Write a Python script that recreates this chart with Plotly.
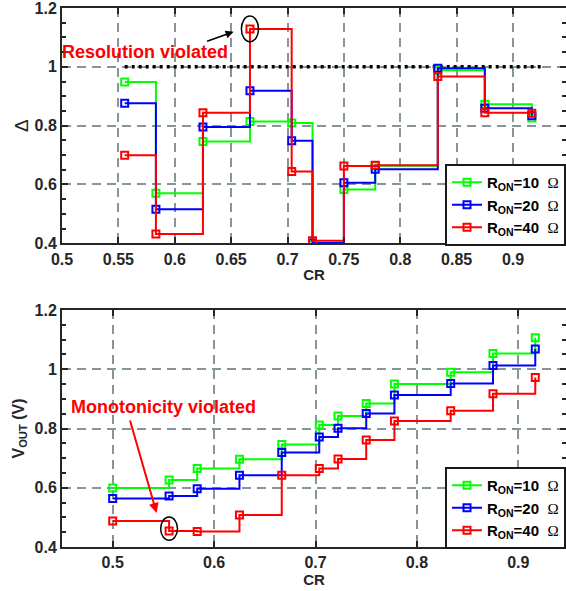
import plotly.graph_objects as go

# ---------------- data ----------------
cr_top = [0.5556, 0.5833, 0.625, 0.6667, 0.7037, 0.7222, 0.75, 0.7778, 0.8333, 0.875, 0.9167]
delta_10 = [0.948, 0.570, 0.746, 0.814, 0.809, 0.395, 0.583, 0.664, 0.988, 0.873, 0.826]
delta_20 = [0.876, 0.516, 0.795, 0.919, 0.749, 0.401, 0.606, 0.652, 0.995, 0.859, 0.834]
delta_40 = [0.699, 0.432, 0.844, 1.129, 0.644, 0.409, 0.663, 0.665, 0.967, 0.844, 0.842]

cr_bot = [0.5, 0.5556, 0.5833, 0.625, 0.6667, 0.7037, 0.7222, 0.75, 0.7778, 0.8333, 0.875, 0.9167]
vout_10 = [0.599, 0.626, 0.665, 0.696, 0.746, 0.812, 0.842, 0.884, 0.950, 0.990, 1.053, 1.106]
vout_20 = [0.564, 0.572, 0.597, 0.642, 0.719, 0.771, 0.801, 0.851, 0.913, 0.952, 1.013, 1.068]
vout_40 = [0.488, 0.454, 0.452, 0.508, 0.642, 0.665, 0.697, 0.761, 0.825, 0.860, 0.917, 0.972]

resolution_limit_x = [0.5556, 0.9259]
resolution_limit_y = [1.0, 1.0]

top_xticks = [0.5, 0.55, 0.6, 0.65, 0.7, 0.75, 0.8, 0.85, 0.9]
top_xlabels = ["0.5", "0.55", "0.6", "0.65", "0.7", "0.75", "0.8", "0.85", "0.9"]
bot_xticks = [0.5, 0.6, 0.7, 0.8, 0.9]
bot_xlabels = ["0.5", "0.6", "0.7", "0.8", "0.9"]
yticks = [0.4, 0.6, 0.8, 1.0, 1.2]
ylabels = ["0.4", "0.6", "0.8", "1", "1.2"]

OMEGA = "<span style='font-family:Liberation Serif;font-weight:normal'>Ω</span>"
series_names = ["R<sub>ON</sub>=10&nbsp; " + OMEGA, "R<sub>ON</sub>=20&nbsp; " + OMEGA,
                "R<sub>ON</sub>=40&nbsp; " + OMEGA]
series_colors = ["#00ff00", "#0000ff", "#ff0000"]

FONT = "Liberation Sans, Arial, Helvetica, sans-serif"

fig = go.Figure()

# resolution limit (dotted black)
fig.add_trace(go.Scatter(x=resolution_limit_x, y=resolution_limit_y, mode="lines",
                         line=dict(color="black", width=3.5, dash="3px,4px"),
                         showlegend=False, xaxis="x", yaxis="y", hoverinfo="skip"))

for name, col, ys in zip(series_names, series_colors, [delta_10, delta_20, delta_40]):
    fig.add_trace(go.Scatter(x=cr_top, y=ys, mode="lines+markers", name=name,
                             line=dict(color=col, width=2, shape="hv"),
                             marker=dict(symbol="square-open", size=7, color=col,
                                         line=dict(width=2, color=col)),
                             xaxis="x", yaxis="y", legend="legend"))

for name, col, ys in zip(series_names, series_colors, [vout_10, vout_20, vout_40]):
    fig.add_trace(go.Scatter(x=cr_bot, y=ys, mode="lines+markers", name=name,
                             line=dict(color=col, width=2, shape="hv"),
                             marker=dict(symbol="square-open", size=7, color=col,
                                         line=dict(width=2, color=col)),
                             xaxis="x2", yaxis="y2", legend="legend2"))

W, H = 566, 591
ML, MR, MT, MB = 62, 0, 8, 44
ph = H - MT - MB

def yfrac(py):
    return (H - MB - py) / ph

def bold(labels):
    return ["<b>%s</b>" % s for s in labels]

axis_common = dict(
    showline=True, linecolor="#262626", linewidth=2, mirror="ticks",
    ticks="inside", ticklen=6, tickwidth=1.5, tickcolor="#262626",
    showgrid=True, gridcolor="#869696", gridwidth=1.8, griddash="9px,6px",
    zeroline=False, tickmode="array", ticklabeloverflow="allow",
    tickfont=dict(family=FONT, size=16, color="#262626"),
)

yminor = dict(dtick=0.05, tick0=0.4, ticks="inside", ticklen=4, tickwidth=1.5,
              tickcolor="#262626", showgrid=False)

legend_common = dict(
    bgcolor="white", bordercolor="#1a1a1a", borderwidth=2,
    font=dict(family=FONT, size=15, color="black", weight="bold"),
    itemwidth=30, tracegroupgap=0, xanchor="right", yanchor="bottom",
)

fig.update_layout(
    width=W, height=H,
    margin=dict(l=ML, r=MR, t=MT, b=MB, autoexpand=False),
    paper_bgcolor="white", plot_bgcolor="white",
    font=dict(family=FONT, color="#262626"),
    xaxis=dict(axis_common, domain=[0, 1], range=[0.5, 0.947],
               tickvals=top_xticks, ticktext=bold(top_xlabels), anchor="y",
               title=dict(text="<b>CR</b>", font=dict(family=FONT, size=15), standoff=3)),
    yaxis=dict(axis_common, domain=[yfrac(243.3), 1.0], range=[0.4, 1.2],
               tickvals=yticks, ticktext=bold(ylabels), anchor="x", minor=yminor,
               title=dict(text="Δ", font=dict(family=FONT, size=19), standoff=1)),
    xaxis2=dict(axis_common, domain=[0, 1], range=[0.45, 0.947],
                tickvals=bot_xticks, ticktext=bold(bot_xlabels), anchor="y2",
                title=dict(text="<b>CR</b>", font=dict(family=FONT, size=15), standoff=2)),
    yaxis2=dict(axis_common, domain=[0, yfrac(310)], range=[0.4, 1.2],
                tickvals=yticks, ticktext=bold(ylabels), anchor="x2", minor=yminor,
                title=dict(text="<b>V<sub>OUT</sub> (V)</b>", font=dict(family=FONT, size=16), standoff=6)),
    legend=dict(legend_common, x=1.0, y=yfrac(246)),
    legend2=dict(legend_common, x=1.0, y=yfrac(549)),
    showlegend=True,
)

# --- annotations: Resolution violated ---
fig.add_annotation(x=0.574, y=1.052, xref="x", yref="y", text="<b>Resolution violated</b>",
                   showarrow=False, font=dict(family=FONT, size=18, color="#ff0000"))
fig.add_annotation(x=0.6522, y=1.119, xref="x", yref="y", text="", showarrow=True,
                   ax=-28, ay=10, axref="pixel", ayref="pixel",
                   arrowhead=2, arrowsize=1, arrowwidth=1.6, arrowcolor="black")
fig.add_shape(type="circle", xref="x", yref="y",
              x0=cr_top[3] - 0.0076, x1=cr_top[3] + 0.0076,
              y0=delta_40[3] - 0.044, y1=delta_40[3] + 0.044,
              line=dict(color="black", width=1.5))

# --- annotations: Monotonicity violated ---
fig.add_annotation(x=0.5505, y=0.873, xref="x2", yref="y2", text="<b>Monotonicity violated</b>",
                   showarrow=False, font=dict(family=FONT, size=18, color="#ff0000"))
fig.add_annotation(x=0.5433, y=0.515, xref="x2", yref="y2", text="", showarrow=True,
                   ax=-27, ay=-94, axref="pixel", ayref="pixel",
                   arrowhead=2, arrowsize=1, arrowwidth=2, arrowcolor="#ff0000")
fig.add_shape(type="circle", xref="x2", yref="y2",
              x0=cr_bot[1] - 0.0083, x1=cr_bot[1] + 0.0083,
              y0=vout_40[1] + 0.008 - 0.0395, y1=vout_40[1] + 0.008 + 0.0395,
              line=dict(color="black", width=1.5))

fig.write_html("out.html", config={"displayModeBar": False},
               post_script="document.body.style.margin='0';")
